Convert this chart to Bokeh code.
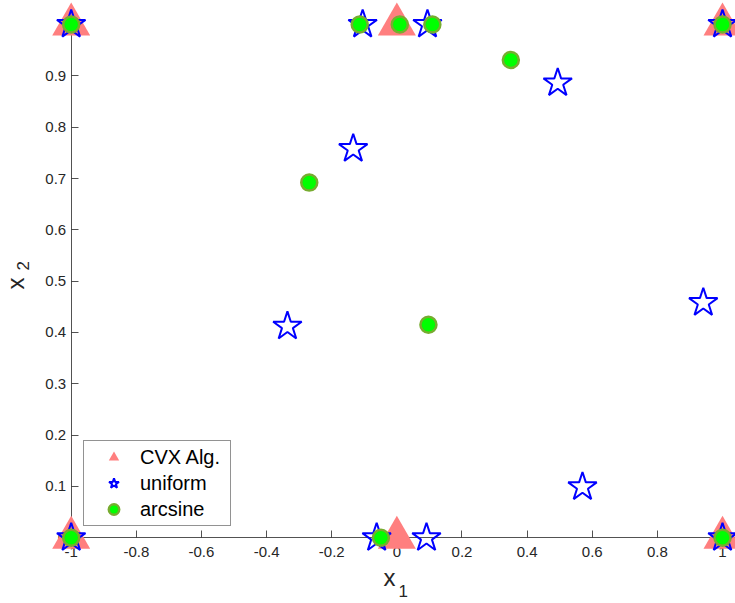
import math
from bokeh.plotting import figure
from bokeh.models import (Range1d, FixedTicker, Legend, LegendItem, Label,
                          LinearAxis)
from bokeh.embed import file_html
from bokeh.resources import INLINE

# ---- data ----
cvx_x = [-1, 0, 1, -1, 0, 1]
cvx_y = [1, 1, 1, 0, 0, 0]

uni_x = [-1, -0.105, 0.094, 1, -0.134, 0.494, -0.336, 0.941, 0.570, -1, -0.062, 0.091, 1]
uni_y = [1, 1, 1, 1, 0.758, 0.886, 0.412, 0.458, 0.099, 0, 0, 0, 0]

arc_x = [-1, -0.114, 0.009, 0.109, 1, 0.350, -0.269, 0.097, -1, -0.049, 1]
arc_y = [1, 1, 1, 1, 1, 0.931, 0.692, 0.415, 0, 0, 0]

x_ticks = [-1, -0.8, -0.6, -0.4, -0.2, 0, 0.2, 0.4, 0.6, 0.8, 1]
x_tick_labels = ["-1", "-0.8", "-0.6", "-0.4", "-0.2", "0", "0.2", "0.4", "0.6", "0.8", "1"]
y_ticks = [0, 0.1, 0.2, 0.3, 0.4, 0.5, 0.6, 0.7, 0.8, 0.9, 1]
y_tick_labels = ["0", "0.1", "0.2", "0.3", "0.4", "0.5", "0.6", "0.7", "0.8", "0.9", "1"]

series_names = ["CVX Alg.", "uniform", "arcsine"]

# ---- layout ----
W, H = 735, 603
X_START, X_END = -1.2171, 1.0399
Y_START, Y_END = -0.1280, 1.0468
FONT = "Liberation Sans"
INK = "#262626"

p = figure(width=W, height=H, output_backend="svg", toolbar_location=None,
           x_range=Range1d(X_START, X_END), y_range=Range1d(Y_START, Y_END),
           x_axis_location=None, y_axis_location=None, min_border=0,
           outline_line_color=None, background_fill_color="white",
           border_fill_color="white")
p.grid.visible = False

xaxis = LinearAxis(fixed_location=0, bounds=(-1, X_END),
                   ticker=FixedTicker(ticks=x_ticks),
                   major_label_overrides={t: l for t, l in zip(x_ticks, x_tick_labels)})
yaxis = LinearAxis(fixed_location=-1, bounds=(0, 1),
                   ticker=FixedTicker(ticks=y_ticks),
                   major_label_overrides={t: l for t, l in zip(y_ticks, y_tick_labels)})
for ax in (xaxis, yaxis):
    ax.axis_line_color = INK
    ax.axis_line_width = 0.8
    ax.major_tick_line_color = INK
    ax.major_tick_line_width = 0.8
    ax.major_tick_in = 7
    ax.major_tick_out = 0
    ax.minor_tick_in = 0
    ax.minor_tick_out = 0
    ax.major_label_text_font = FONT
    ax.major_label_text_font_size = "15px"
    ax.major_label_text_color = INK
xaxis.major_label_standoff = 9
yaxis.major_label_standoff = 5
p.add_layout(xaxis, "below")
p.add_layout(yaxis, "left")

r_cvx = p.scatter(cvx_x, cvx_y, marker="triangle", size=38,
                  fill_color="#FF7F7F", line_color=None, level="annotation")
r_uni = p.scatter(uni_x, uni_y, marker="star", size=30, fill_color=None,
                  line_color="#0000FF", line_width=2, level="annotation")
r_arc = p.scatter(arc_x, arc_y, marker="circle", size=16, fill_color="#00FF00",
                  line_color="#77AC30", line_width=2.5, level="annotation")

legend = Legend(items=[LegendItem(label=series_names[0], renderers=[r_cvx]),
                       LegendItem(label=series_names[1], renderers=[r_uni]),
                       LegendItem(label=series_names[2], renderers=[r_arc])],
                location=(83, 77), padding=3, spacing=0, glyph_width=53,
                glyph_height=26, label_height=26, label_standoff=0,
                label_width=87,
                label_text_font=FONT, label_text_font_size="20px",
                label_text_color="black", border_line_color=INK,
                border_line_width=1, background_fill_color="white",
                background_fill_alpha=1.0, margin=0)
p.add_layout(legend)

# axis titles with subscripts
p.add_layout(Label(x=-0.0226, y=-0.0773, text="x", text_font=FONT,
                   text_font_size="24px", text_color=INK, text_align="center",
                   text_baseline="alphabetic"))
p.add_layout(Label(x=0.005, y=-0.1028, text="1", text_font=FONT,
                   text_font_size="17px", text_color=INK, text_align="left",
                   text_baseline="alphabetic"))
p.add_layout(Label(x=-1.1710, y=0.4954, text="x", text_font=FONT,
                   text_font_size="24px", text_color=INK, text_align="center",
                   text_baseline="alphabetic", angle=math.pi / 2))
p.add_layout(Label(x=-1.1495, y=0.5207, text="2", text_font=FONT,
                   text_font_size="17px", text_color=INK, text_align="left",
                   text_baseline="alphabetic", angle=math.pi / 2))

open("out.html", "w").write(file_html(p, INLINE))
